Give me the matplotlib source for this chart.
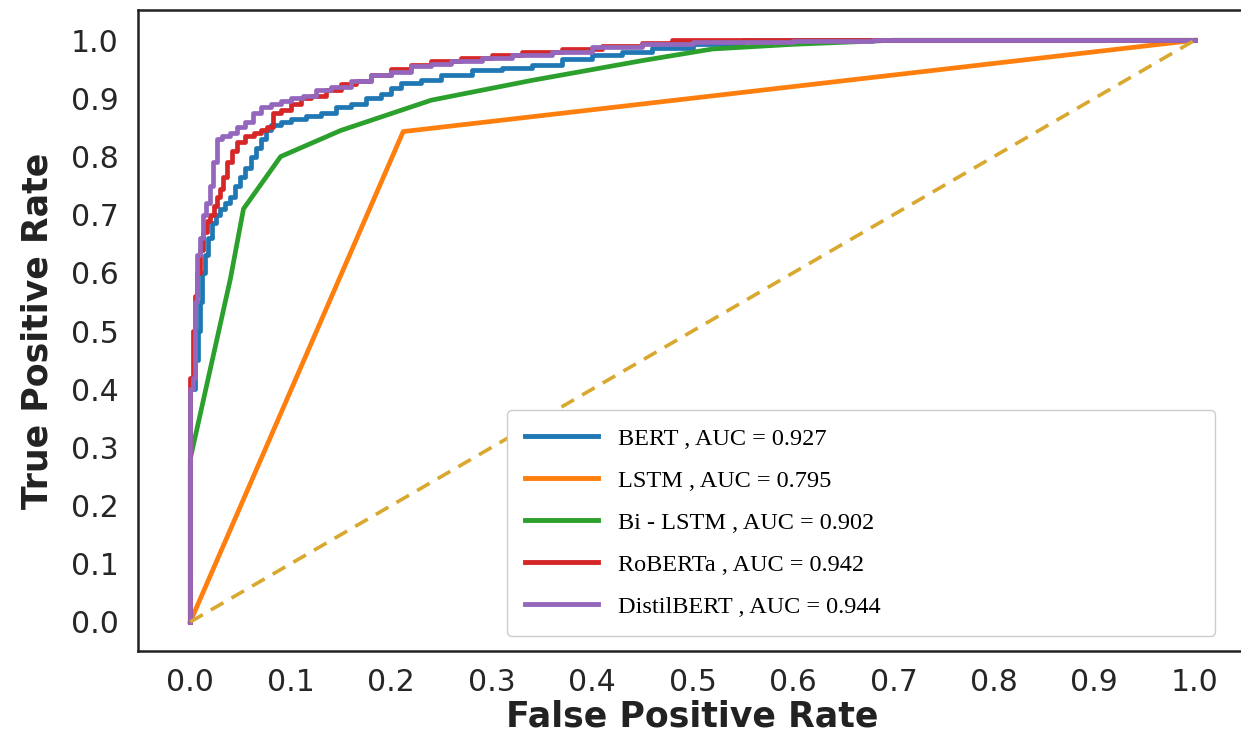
import matplotlib
matplotlib.use("Agg")
import matplotlib.pyplot as plt

# ---------------- data ----------------
labels = ["BERT , AUC = 0.927", "LSTM , AUC = 0.795", "Bi - LSTM , AUC = 0.902",
          "RoBERTa , AUC = 0.942", "DistilBERT , AUC = 0.944"]

bert_fpr = [0, 0, 0.005, 0.008, 0.010, 0.012, 0.015, 0.018, 0.022, 0.026, 0.030, 0.035,
            0.040, 0.045, 0.050, 0.055, 0.060, 0.065, 0.070, 0.075, 0.080, 0.090, 0.100,
            0.115, 0.130, 0.145, 0.160, 0.175, 0.190, 0.200, 0.210, 0.230, 0.250, 0.280,
            0.310, 0.340, 0.370, 0.400, 0.430, 0.460, 0.500, 0.550, 1.0]
bert_tpr = [0, 0.40, 0.45, 0.50, 0.55, 0.60, 0.63, 0.66, 0.685, 0.70, 0.71, 0.72,
            0.73, 0.75, 0.765, 0.78, 0.80, 0.815, 0.83, 0.845, 0.855, 0.86, 0.865,
            0.87, 0.875, 0.885, 0.89, 0.90, 0.908, 0.918, 0.926, 0.932, 0.94, 0.948,
            0.953, 0.958, 0.967, 0.974, 0.98, 0.987, 0.993, 1.0, 1.0]

lstm_fpr = [0, 0.212, 1.0]
lstm_tpr = [0, 0.843, 1.0]

bilstm_fpr = [0, 0, 0.04, 0.053, 0.09, 0.15, 0.24, 0.34, 0.45, 0.52, 0.60, 0.70, 1.0]
bilstm_tpr = [0, 0.28, 0.59, 0.71, 0.80, 0.845, 0.897, 0.931, 0.965, 0.985, 0.993, 1.0, 1.0]

roberta_fpr = [0, 0, 0.003, 0.005, 0.007, 0.010, 0.013, 0.017, 0.020, 0.024, 0.027, 0.030,
               0.033, 0.037, 0.042, 0.047, 0.055, 0.063, 0.070, 0.076, 0.082, 0.090, 0.100,
               0.110, 0.120, 0.135, 0.150, 0.165, 0.180, 0.200, 0.220, 0.240, 0.270, 0.300,
               0.330, 0.370, 0.410, 0.450, 0.480, 1.0]
roberta_tpr = [0, 0.42, 0.50, 0.56, 0.60, 0.64, 0.67, 0.69, 0.70, 0.715, 0.73, 0.745,
               0.765, 0.79, 0.81, 0.825, 0.835, 0.84, 0.845, 0.85, 0.875, 0.88, 0.89,
               0.90, 0.905, 0.915, 0.925, 0.93, 0.94, 0.95, 0.958, 0.965, 0.97, 0.975,
               0.98, 0.985, 0.99, 0.995, 1.0, 1.0]

distil_fpr = [0, 0, 0.003, 0.005, 0.007, 0.010, 0.013, 0.016, 0.020, 0.023, 0.027, 0.032,
              0.040, 0.047, 0.055, 0.062, 0.070, 0.080, 0.090, 0.100, 0.112, 0.125, 0.140,
              0.160, 0.180, 0.200, 0.220, 0.240, 0.260, 0.290, 0.320, 0.360, 0.400, 0.450,
              0.500, 0.600, 0.680, 1.0]
distil_tpr = [0, 0.40, 0.42, 0.55, 0.63, 0.66, 0.70, 0.72, 0.75, 0.79, 0.83, 0.835,
              0.84, 0.85, 0.86, 0.875, 0.885, 0.89, 0.895, 0.90, 0.905, 0.915, 0.92,
              0.93, 0.94, 0.945, 0.955, 0.96, 0.965, 0.97, 0.975, 0.98, 0.988, 0.993,
              0.997, 0.998, 1.0, 1.0]

chance = [0, 1]
ticks = [0.0, 0.1, 0.2, 0.3, 0.4, 0.5, 0.6, 0.7, 0.8, 0.9, 1.0]

# ---------------- plot ----------------
W, H = 1241, 744
fig = plt.figure(figsize=(W / 100, H / 100), dpi=100)
left, right, top, bottom = 138, 1247, 10, 651
ax = fig.add_axes([left / W, 1 - bottom / H, (right - left) / W, (bottom - top) / H])

lw = 3.4
ax.plot(bert_fpr, bert_tpr, color="#1f77b4", lw=lw, drawstyle="steps-post", label=labels[0])
ax.plot(lstm_fpr, lstm_tpr, color="#ff7f0e", lw=lw, label=labels[1])
ax.plot(bilstm_fpr, bilstm_tpr, color="#2ca02c", lw=lw, label=labels[2])
ax.plot(roberta_fpr, roberta_tpr, color="#d62728", lw=lw, drawstyle="steps-post", label=labels[3])
ax.plot(distil_fpr, distil_tpr, color="#9467bd", lw=lw, drawstyle="steps-post", label=labels[4])
ax.plot(chance, chance, color="#d9a82e", lw=2.6, ls=(0, (4, 2.6)))

ax.set_xlim(-0.052, 1.052)
ax.set_ylim(-0.05, 1.052)
ax.set_xticks(ticks)
ax.set_yticks(ticks)
ax.set_xticklabels([f"{t:.1f}" for t in ticks])
ax.set_yticklabels([f"{t:.1f}" for t in ticks])
ax.tick_params(axis="both", length=0, labelsize=21.5, colors="#262626", pad=12)
ax.tick_params(axis="y", pad=14)

for s in ax.spines.values():
    s.set_color("#222222")
    s.set_linewidth(1.8)

ax.set_xlabel("False Positive Rate", fontsize=25, fontweight="bold", color="#222222", labelpad=2)
ax.set_ylabel("True Positive Rate", fontsize=25, fontweight="bold", color="#222222", labelpad=12)

leg = ax.legend(loc="lower left", bbox_to_anchor=(0.3327, 0.0234, 0.638, 0.35), mode="expand",
                borderaxespad=0, prop={"family": "Liberation Serif", "size": 17.5},
                handlelength=3.0, handletextpad=0.8, labelspacing=0.82, borderpad=0.75,
                frameon=True, fancybox=True, framealpha=1.0, edgecolor="#cccccc")
for h in leg.get_lines():
    h.set_linewidth(3.5)

fig.savefig("out.png", dpi=100, facecolor="white")
